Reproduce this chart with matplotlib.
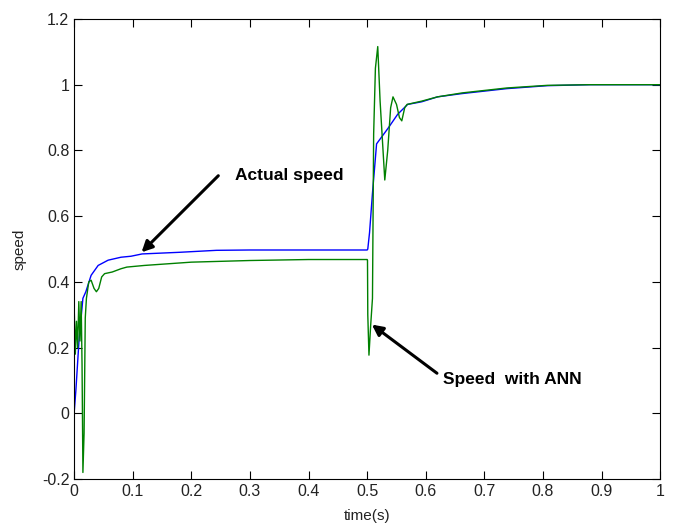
import matplotlib.pyplot as plt
from matplotlib.ticker import FormatStrFormatter

plt.rcParams['font.family'] = ['Liberation Sans', 'DejaVu Sans']

# actual speed (blue)
t_actual = [0, 0.003, 0.0085, 0.015, 0.020, 0.029, 0.041, 0.058, 0.080, 0.097,
            0.116, 0.18, 0.243, 0.3, 0.4, 0.5, 0.501, 0.504, 0.509, 0.516,
            0.535, 0.552, 0.569, 0.593, 0.62, 0.662, 0.738, 0.807, 0.88, 1.0]
speed_actual = [0, 0.07, 0.226, 0.35, 0.37, 0.42, 0.45, 0.466, 0.475, 0.478,
                0.485, 0.49, 0.496, 0.497, 0.497, 0.497, 0.50, 0.55, 0.67, 0.82,
                0.866, 0.91, 0.94, 0.948, 0.963, 0.973, 0.988, 0.997, 1.0, 1.0]

# speed with ANN (green)
t_ann = [0, 0.002, 0.004, 0.006, 0.008, 0.010, 0.012, 0.0135, 0.015, 0.017,
         0.019, 0.021, 0.025, 0.029, 0.034, 0.038, 0.042, 0.047, 0.052, 0.065,
         0.080, 0.09, 0.12, 0.16, 0.2, 0.3, 0.4, 0.5,
         0.5005, 0.501, 0.503, 0.506, 0.509, 0.511, 0.514, 0.518, 0.522, 0.527,
         0.530, 0.535, 0.540, 0.544, 0.550, 0.555, 0.559, 0.564, 0.568, 0.593,
         0.62, 0.662, 0.738, 0.807, 0.88, 1.0]
speed_ann = [0.33, 0.18, 0.28, 0.20, 0.34, 0.22, 0.34, 0.15, -0.18, -0.06,
             0.29, 0.35, 0.40, 0.405, 0.38, 0.37, 0.38, 0.415, 0.425, 0.43,
             0.44, 0.445, 0.45, 0.455, 0.46, 0.465, 0.468, 0.468,
             0.466, 0.30, 0.177, 0.27, 0.35, 0.85, 1.05, 1.116, 0.95, 0.80,
             0.71, 0.80, 0.93, 0.963, 0.94, 0.90, 0.89, 0.93, 0.94, 0.95,
             0.963, 0.975, 0.99, 0.998, 1.0, 1.0]

fig = plt.figure(figsize=(6.8, 5.27), dpi=100)
ax = fig.add_axes([0.109, 0.091, 0.862, 0.873])

ax.plot(t_actual, speed_actual, color='#0000ff', lw=1)
ax.plot(t_ann, speed_ann, color='#008000', lw=1)

ax.set_xlim(0, 1)
ax.set_ylim(-0.2, 1.2)
ax.set_xticks([i / 10 for i in range(11)])
ax.set_yticks([-0.2, 0, 0.2, 0.4, 0.6, 0.8, 1.0, 1.2])
ax.xaxis.set_major_formatter(FormatStrFormatter('%g'))
ax.yaxis.set_major_formatter(FormatStrFormatter('%g'))
ax.tick_params(direction='in', top=True, right=True, length=6, labelsize=11.5,
               labelcolor='#222222')
ax.set_xlabel('time(s)', fontsize=11, labelpad=7, color='#222222')
ax.set_ylabel('speed', fontsize=11, labelpad=11, color='#222222')

# arrows drawn tail -> head, labels placed next to the tails
arrow = dict(arrowstyle='-|>', color='black', lw=2.2, mutation_scale=16,
             shrinkA=0, shrinkB=0)
ax.annotate('', xy=(0.115, 0.49), xytext=(0.246, 0.723), arrowprops=arrow)
ax.text(0.274, 0.723, 'Actual speed', fontsize=12.5, fontweight='bold',
        va='center')
ax.annotate('', xy=(0.508, 0.27), xytext=(0.619, 0.122), arrowprops=arrow)
ax.text(0.629, 0.104, 'Speed  with ANN', fontsize=12.5, fontweight='bold',
        va='center')

fig.savefig('out.png')
